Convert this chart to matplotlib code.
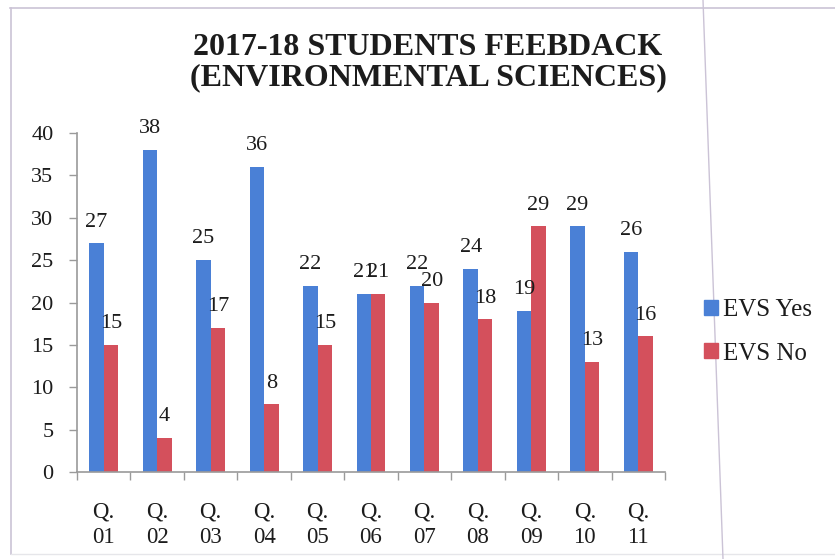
import matplotlib.pyplot as plt
import numpy as np
from matplotlib.lines import Line2D
from matplotlib.patches import Patch

# data
questions = ['Q.\n01', 'Q.\n02', 'Q.\n03', 'Q.\n04', 'Q.\n05', 'Q.\n06',
             'Q.\n07', 'Q.\n08', 'Q.\n09', 'Q.\n10', 'Q.\n11']
evs_yes = [27, 38, 25, 36, 22, 21, 22, 24, 19, 29, 26]
evs_no = [15, 4, 17, 8, 15, 21, 20, 18, 29, 13, 16]
yticks = [0, 5, 10, 15, 20, 25, 30, 35, 40]

blue = '#4a80d6'
red = '#d4505c'
txt = '#1c1c1c'
axis_col = '#9a9a9a'

plt.rcParams['font.family'] = ['Liberation Serif', 'DejaVu Serif']

W, H = 835, 559
fig = plt.figure(figsize=(W / 100, H / 100), dpi=100)
fig.patch.set_facecolor('white')

# axes: x from 77 to 665 px, y=0 at 472 px, y=40 at 133 px
ax = fig.add_axes([77 / W, 1 - 472 / H, (665 - 77) / W, (472 - 133) / H])

x = np.arange(len(questions))
barw = 0.27
rects_yes = ax.bar(x - barw / 2, evs_yes, width=barw, color=blue, label='EVS Yes')
rects_no = ax.bar(x + barw / 2, evs_no, width=barw, color=red, label='EVS No')


def autolabel(rects, values):
    # value label above each bar
    for rect, v in zip(rects, values):
        ax.annotate(str(v),
                    xy=(rect.get_x() + rect.get_width() / 2, rect.get_height()),
                    xytext=(0, 12), textcoords='offset points',
                    ha='center', va='baseline', fontsize=16, color=txt)


autolabel(rects_yes, evs_yes)
autolabel(rects_no, evs_no)

ax.set_xlim(-0.5, len(questions) - 0.5)
ax.set_ylim(0, 40)
ax.set_yticks(yticks)
ax.tick_params(axis='y', direction='out', length=6, width=1, color=axis_col,
               pad=11, labelsize=16, labelcolor=txt)

ax.set_xticks(x)
ax.set_xticklabels(questions, linespacing=1.3)
ax.set_xticks(np.arange(-0.5, len(questions)), minor=True)
ax.tick_params(axis='x', which='major', length=0, pad=21, labelsize=16.5, labelcolor=txt)
ax.tick_params(axis='x', which='minor', direction='out', length=6, width=1, color=axis_col)

for s in ['top', 'right']:
    ax.spines[s].set_visible(False)
for s in ['left', 'bottom']:
    ax.spines[s].set_color(axis_col)
    ax.spines[s].set_linewidth(1.2)

fig.text(428 / W, 1 - 63 / H, '2017-18 STUDENTS FEEBDACK\n(ENVIRONMENTAL SCIENCES)',
         ha='center', va='center', fontsize=23, fontweight='bold', color=txt,
         linespacing=1.05)

handles = [Patch(color=blue), Patch(color=red)]
leg = fig.legend(handles, ['EVS Yes', 'EVS No'], loc='center left',
                 bbox_to_anchor=(704 / W, 1 - 332 / H), frameon=False,
                 fontsize=18, handlelength=0.55, handleheight=0.55,
                 handletextpad=0.2, labelspacing=0.85, borderpad=0, borderaxespad=0)
for t in leg.get_texts():
    t.set_color(txt)

# faint page / chart border lines from the scan
line_col = '#cbc3d6'
fig.add_artist(Line2D([10 / W, 1], [1 - 8 / H, 1 - 8 / H], transform=fig.transFigure,
                      color=line_col, lw=1.2))
fig.add_artist(Line2D([11 / W, 11 / W], [1 - 8 / H, 1 - 554 / H], transform=fig.transFigure,
                      color=line_col, lw=1.2))
fig.add_artist(Line2D([11 / W, 1], [1 - 554 / H, 1 - 554 / H], transform=fig.transFigure,
                      color='#e6e6ea', lw=1))
fig.add_artist(Line2D([703 / W, 723 / W], [1, 0], transform=fig.transFigure,
                      color=line_col, lw=1))

fig.savefig('out.png', dpi=100)
